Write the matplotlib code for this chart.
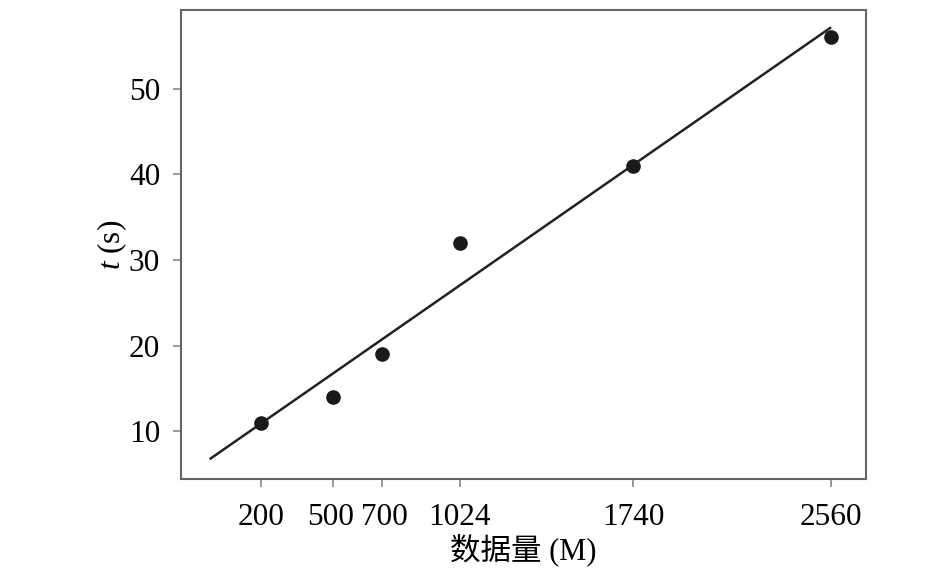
import matplotlib
matplotlib.use("Agg")
import matplotlib.pyplot as plt
from matplotlib.transforms import ScaledTranslation

data_size = [200, 500, 700, 1024, 1740, 2560]
time_s = [11, 14, 19, 32, 41, 56]
fit_x = [-8, 2556]
fit_y = [6.8, 57.1]
xtick_labels = ["200", "500", "700", "1024", "1740", "2560"]
ytick_vals = [10, 20, 30, 40, 50]
label_nudge_px = [0, -3, 3, 0, 0, 0]

plt.rcParams['font.family'] = ['Liberation Serif', 'Noto Sans CJK SC']
plt.rcParams['mathtext.fontset'] = 'custom'
plt.rcParams['mathtext.it'] = 'Liberation Serif:italic'
plt.rcParams['mathtext.rm'] = 'Liberation Serif'

fig = plt.figure(figsize=(9.45, 5.74), dpi=100)
ax = fig.add_axes([0.1915, 0.1655, 0.725, 0.817])

ax.plot(fit_x, fit_y, color='#222222', lw=1.8, zorder=2)
ax.plot(data_size, time_s, 'o', color='#1a1a1a', ms=9.5, zorder=3)

ax.set_xlim(-131, 2705)
ax.set_ylim(4.4, 59.2)
ax.set_xticks(data_size)
ax.set_xticklabels(xtick_labels)
ax.set_yticks(ytick_vals)

for s in ax.spines.values():
    s.set_color('#666666')
    s.set_linewidth(1.5)
ax.tick_params(axis='both', direction='out', length=6, width=1.2, color='#888888',
               labelsize=22.5, labelcolor='black')
ax.tick_params(axis='x', pad=11)
ax.tick_params(axis='y', pad=9)

ax.set_xlabel('数据量 (M)', fontsize=22, labelpad=1,
              family=['Liberation Serif', 'Noto Sans CJK SC'])
ax.set_ylabel(r'$t$ (s)', fontsize=22.5, labelpad=0)

fig.canvas.draw()
for lab, dx in zip(ax.get_xticklabels(), label_nudge_px):
    lab.set_transform(lab.get_transform() + ScaledTranslation(dx / 100, 0, fig.dpi_scale_trans))

fig.savefig('out.png', dpi=100)
